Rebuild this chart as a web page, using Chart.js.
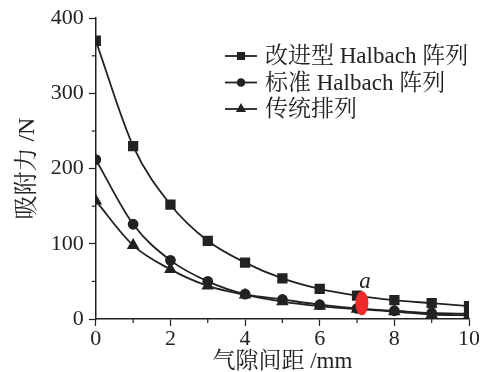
<!DOCTYPE html>
<html>
<head>
<meta charset="utf-8">
<script src="https://cdn.jsdelivr.net/npm/chart.js@4/dist/chart.umd.min.js"></script>
<style>
  html, body { margin: 0; padding: 0; background: #fff; }
  #wrap { width: 487px; height: 372px; }
</style>
</head>
<body>
<div id="wrap"><canvas id="myChart"></canvas></div>
<script>
var gaps = [0, 1, 2, 3, 4, 5, 6, 7, 8, 9, 10];
var improved = [370, 230, 152, 104, 75, 54, 40, 31, 25, 21, 17];
var standard = [212, 126, 78, 50, 33, 26, 19, 14, 11, 8, 7];
var normal = [157, 98, 66, 44, 32, 23, 17, 13, 10, 6, 5];
var seriesNames = ['改进型 Halbach 阵列', '标准 Halbach 阵列', '传统排列'];
var yTicks = [0, 100, 200, 300, 400];
var xTicks = [0, 2, 4, 6, 8, 10];
var markA = { x: 7.13, y: 21, label: 'a' };

var font = "'Liberation Serif', 'Noto Serif CJK SC', 'Noto Sans CJK SC', serif";
var ink = '#222';

function pts(vals) {
    return gaps.map(function (g, i) { return { x: g, y: vals[i] }; });
}

// minor ticks, red mark and the legend are drawn here
var extras = {
    id: 'extras',
    afterDraw: function (chart) {
        var c = chart.ctx;
        var xs = chart.scales.x, ys = chart.scales.y;
        var area = chart.chartArea;
        c.save();
        c.strokeStyle = ink;
        c.lineWidth = 1.2;
        for (var v = 50; v < 400; v += 100) {
            var py = ys.getPixelForValue(v);
            c.beginPath(); c.moveTo(area.left, py); c.lineTo(area.left - 4, py); c.stroke();
        }
        for (var u = 1; u < 10; u += 2) {
            var px = xs.getPixelForValue(u);
            c.beginPath(); c.moveTo(px, area.bottom); c.lineTo(px, area.bottom + 4); c.stroke();
        }

        var ax = xs.getPixelForValue(markA.x), ay = ys.getPixelForValue(markA.y);
        c.fillStyle = '#ee2b2b';
        c.beginPath(); c.ellipse(ax, ay, 6.5, 12, 0, 0, Math.PI * 2); c.fill();
        c.fillStyle = ink;
        c.font = "italic 23px 'Liberation Serif', serif";
        c.textAlign = 'center';
        c.textBaseline = 'alphabetic';
        c.fillText(markA.label, ax + 3, ay - 15);

        c.font = '23px ' + font;
        c.textAlign = 'left';
        c.textBaseline = 'middle';
        chart.data.datasets.forEach(function (ds, i) {
            var ly = 56 + i * 26.5;
            c.strokeStyle = ink;
            c.lineWidth = 1.8;
            c.beginPath(); c.moveTo(225, ly); c.lineTo(257, ly); c.stroke();
            Chart.helpers.drawPoint(c, {
                pointStyle: ds.pointStyle,
                radius: ds.pointRadius * 0.75,
                borderWidth: 1
            }, 241, ly);
            c.fillStyle = ink;
            c.fill();
            c.fillText(ds.label, 265, ly + 1);
        });
        c.restore();
    }
};

function makeSet(label, vals, style, r) {
    return {
        label: label,
        data: pts(vals),
        borderColor: ink,
        backgroundColor: ink,
        pointBackgroundColor: ink,
        pointBorderColor: ink,
        borderWidth: 1.8,
        pointStyle: style,
        pointRadius: r,
        pointHoverRadius: r,
        tension: 0.4,
        cubicInterpolationMode: 'monotone'
    };
}

new Chart(document.getElementById('myChart'), {
    type: 'line',
    data: {
        datasets: [
            makeSet(seriesNames[0], improved, 'rect', 6),
            makeSet(seriesNames[1], standard, 'circle', 4.5),
            makeSet(seriesNames[2], normal, 'triangle', 5.5)
        ]
    },
    options: {
        responsive: true,
        maintainAspectRatio: false,
        animation: false,
        layout: { padding: { top: 13, right: 18, left: 10, bottom: -4 } },
        plugins: {
            legend: { display: false },
            tooltip: { enabled: false }
        },
        scales: {
            x: {
                type: 'linear',
                min: 0,
                max: 10,
                afterBuildTicks: function (s) { s.ticks = xTicks.map(function (v) { return { value: v }; }); },
                border: { display: true, color: ink, width: 1.5 },
                grid: { drawOnChartArea: false, color: ink, tickLength: 7, tickWidth: 1.2 },
                ticks: { color: ink, font: { family: font, size: 22 }, padding: 0, maxRotation: 0 },
                title: { display: true, text: '气隙间距 /mm', color: ink, font: { family: font, size: 23 }, padding: { top: -4, bottom: 0 } }
            },
            y: {
                min: 0,
                max: 400,
                afterBuildTicks: function (s) { s.ticks = yTicks.map(function (v) { return { value: v }; }); },
                border: { display: true, color: ink, width: 1.5 },
                grid: { drawOnChartArea: false, color: ink, tickLength: 7, tickWidth: 1.2 },
                ticks: { color: ink, font: { family: font, size: 22 }, padding: 5 },
                title: { display: true, text: '吸附力 /N', color: ink, font: { family: font, size: 24 }, padding: { top: 3, bottom: 4 } }
            }
        }
    },
    plugins: [extras]
});
</script>
</body>
</html>
